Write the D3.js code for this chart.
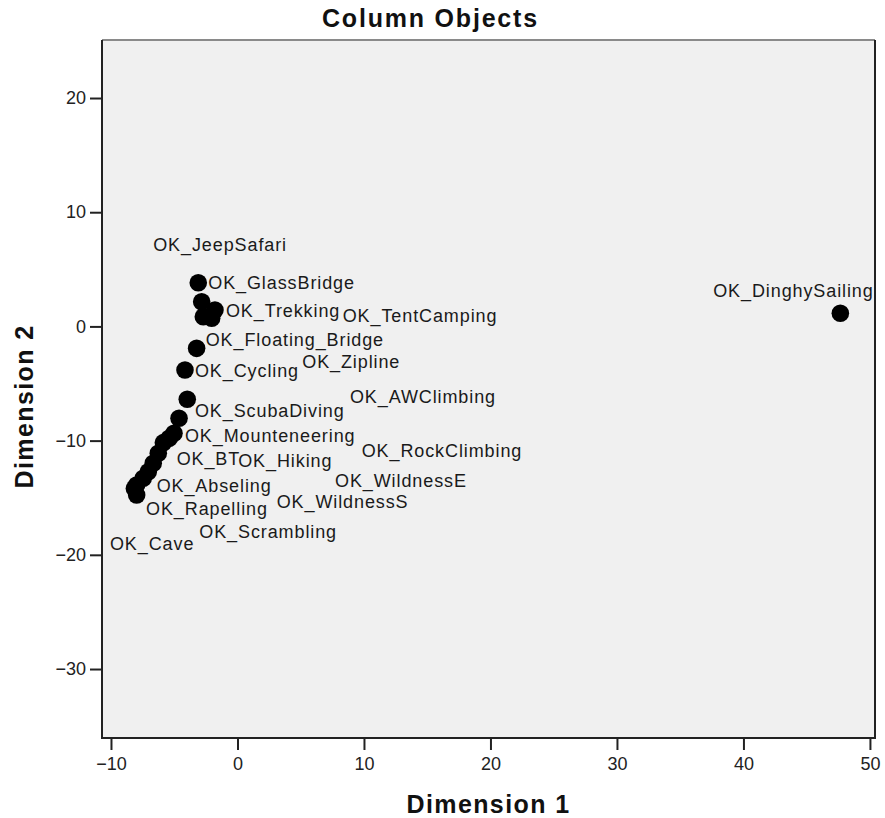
<!DOCTYPE html>
<html>
<head>
<meta charset="utf-8">
<script src="https://cdn.jsdelivr.net/npm/d3@7/dist/d3.min.js"></script>
<style>
  html, body { margin: 0; padding: 0; background: #ffffff; }
  svg { display: block; }
  text { font-family: "Liberation Sans", Arial, sans-serif; }
</style>
</head>
<body>
<svg id="chart" width="885" height="818"></svg>
<script>
// ---- data ----
const pointNames = ["OK_GlassBridge","OK_JeepSafari","OK_Trekking","OK_TentCamping","OK_Zipline",
  "OK_Floating_Bridge","OK_Cycling","OK_ScubaDiving","OK_AWClimbing","OK_Mounteneering",
  "OK_RockClimbing","OK_BT","OK_Hiking","OK_WildnessE","OK_WildnessS","OK_Abseling",
  "OK_Scrambling","OK_Cave","OK_Rapelling","OK_DinghySailing"];
const dim1 = [-3.10,-2.83,-1.78,-2.70,-2.04,-3.23,-4.15,-3.97,-4.62,-5.02,
  -5.40,-5.86,-6.26,-6.66,-7.05,-7.45,-7.97,-8.15,-7.97,47.66];
const dim2 = [3.83,2.16,1.44,0.85,0.71,-1.92,-3.82,-6.38,-8.04,-9.35,
  -9.80,-10.18,-11.11,-11.99,-12.72,-13.30,-13.88,-14.20,-14.76,1.15];

// label anchor positions (data units, left/baseline of each label)
const labelNames = ["OK_JeepSafari","OK_GlassBridge","OK_Trekking","OK_TentCamping","OK_Floating_Bridge",
  "OK_Cycling","OK_Zipline","OK_ScubaDiving","OK_AWClimbing","OK_Mounteneering","OK_RockClimbing",
  "OK_BT","OK_Hiking","OK_WildnessE","OK_Abseling","OK_WildnessS","OK_Rapelling","OK_Scrambling",
  "OK_Cave","OK_DinghySailing"];
const labelDim1 = [-6.66,-2.31,-0.91,8.32,-2.51,-3.36,5.12,-3.36,8.89,-4.15,9.82,
  -4.81,0.06,7.71,-6.39,3.10,-7.23,-3.02,-10.08,37.61];
const labelDim2 = [6.63,3.25,0.85,0.39,-1.72,-4.40,-3.67,-7.96,-6.73,-10.15,-11.41,
  -12.14,-12.34,-14.04,-14.47,-15.93,-16.51,-18.56,-19.58,2.55];

const xTicks = [-10,0,10,20,30,40,50];
const yTicks = [20,10,0,-10,-20,-30];
const xDomain = [-10.71, 50.4];
const yDomain = [-36.04, 25.08];

const chartTitle = "Column Objects";
const xTitle = "Dimension 1";
const yTitle = "Dimension 2";

// ---- layout ----
const svg = d3.select("#chart");
const plot = {left: 102, right: 875, top: 40, bottom: 738};

const x = d3.scaleLinear().domain(xDomain).range([plot.left, plot.right]);
const y = d3.scaleLinear().domain(yDomain).range([plot.bottom, plot.top]);

// plot background
svg.append("rect")
  .attr("x", plot.left).attr("y", plot.top)
  .attr("width", plot.right - plot.left).attr("height", plot.bottom - plot.top)
  .attr("fill", "#f0f0f0");

// clip for marks
svg.append("clipPath").attr("id", "clip").append("rect")
  .attr("x", plot.left).attr("y", plot.top)
  .attr("width", plot.right - plot.left).attr("height", plot.bottom - plot.top);

const marks = svg.append("g").attr("clip-path", "url(#clip)");

marks.selectAll("circle.pt")
  .data(d3.range(pointNames.length))
  .join("circle")
  .attr("class", "pt")
  .attr("cx", i => x(dim1[i]))
  .attr("cy", i => y(dim2[i]))
  .attr("r", 8.8)
  .attr("fill", "#000");

marks.selectAll("text.lbl")
  .data(d3.range(labelNames.length))
  .join("text")
  .attr("class", "lbl")
  .attr("x", i => x(labelDim1[i]))
  .attr("y", i => y(labelDim2[i]))
  .attr("font-size", 18)
  .attr("letter-spacing", "0.9px")
  .attr("fill", "#1a1a1a")
  .text(i => labelNames[i]);

// frame
svg.append("line").attr("x1", plot.left).attr("x2", plot.right)
  .attr("y1", plot.top).attr("y2", plot.top)
  .attr("stroke", "#8a8a8a").attr("stroke-width", 2);
svg.append("path")
  .attr("d", `M${plot.left},${plot.top}V${plot.bottom}H${plot.right}V${plot.top}`)
  .attr("fill", "none").attr("stroke", "#222").attr("stroke-width", 2);

// axes
const xAxis = d3.axisBottom(x).tickValues(xTicks).tickSize(12).tickPadding(7).tickFormat(d3.format("d"));
const gx = svg.append("g").attr("transform", `translate(0,${plot.bottom})`).call(xAxis);
gx.select(".domain").remove();
gx.selectAll(".tick line").attr("stroke", "#222").attr("stroke-width", 2);
gx.selectAll(".tick text").attr("font-size", 18).attr("fill", "#222")
  .attr("font-family", "'Liberation Sans', Arial, sans-serif");

const yAxis = d3.axisLeft(y).tickValues(yTicks).tickSize(12).tickPadding(4).tickFormat(d3.format("d"));
const gy = svg.append("g").attr("transform", `translate(${plot.left},0)`).call(yAxis);
gy.select(".domain").remove();
gy.selectAll(".tick line").attr("stroke", "#222").attr("stroke-width", 2);
gy.selectAll(".tick text").attr("font-size", 18).attr("fill", "#222")
  .attr("font-family", "'Liberation Sans', Arial, sans-serif");

// titles
svg.append("text")
  .attr("x", 322).attr("y", 27)
  .attr("font-size", 25).attr("font-weight", "bold").attr("letter-spacing", "1.8px")
  .attr("fill", "#111")
  .text(chartTitle);

svg.append("text")
  .attr("x", (plot.left + plot.right) / 2).attr("y", 813)
  .attr("text-anchor", "middle")
  .attr("font-size", 25).attr("font-weight", "bold").attr("letter-spacing", "1.4px")
  .attr("fill", "#111")
  .text(xTitle);

svg.append("text")
  .attr("transform", "translate(33,406.5) rotate(-90)")
  .attr("text-anchor", "middle")
  .attr("font-size", 25).attr("font-weight", "bold").attr("letter-spacing", "1.4px")
  .attr("fill", "#111")
  .text(yTitle);
</script>
</body>
</html>
